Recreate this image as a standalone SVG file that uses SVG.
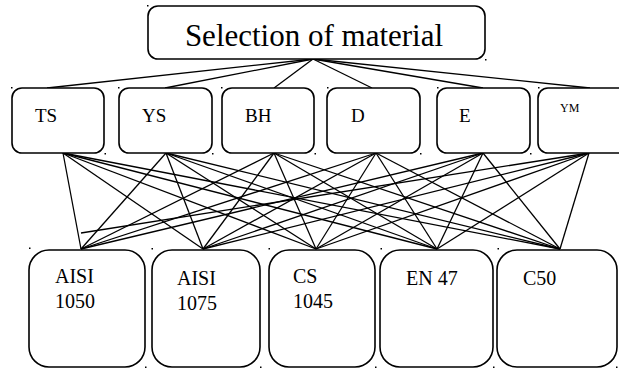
<svg xmlns="http://www.w3.org/2000/svg" width="619" height="368" viewBox="0 0 619 368">
<style>
.box{fill:#fff;stroke:#000;stroke-width:1.6}
text{font-family:'Times New Roman','Liberation Serif','DejaVu Serif',serif;fill:#000}
.c line{stroke:#000;stroke-width:1.3}
.d{fill:#000}
</style>
<rect width="619" height="368" fill="#fff"/>
<g id="connectors" class="c">
<line x1="313" y1="59" x2="47" y2="88"/>
<line x1="313" y1="59" x2="165" y2="88"/>
<line x1="313" y1="59" x2="274" y2="88"/>
<line x1="313" y1="59" x2="372" y2="88"/>
<line x1="313" y1="59" x2="483" y2="88"/>
<line x1="313" y1="59" x2="590" y2="88"/>
<line x1="63" y1="153" x2="81" y2="249"/>
<line x1="63" y1="153" x2="203" y2="249"/>
<line x1="63" y1="153" x2="316" y2="249"/>
<line x1="63" y1="153" x2="437" y2="249"/>
<line x1="63" y1="153" x2="560" y2="249"/>
<line x1="166" y1="153" x2="81" y2="249"/>
<line x1="166" y1="153" x2="203" y2="249"/>
<line x1="166" y1="153" x2="316" y2="249"/>
<line x1="166" y1="153" x2="437" y2="249"/>
<line x1="166" y1="153" x2="560" y2="249"/>
<line x1="274" y1="153" x2="81" y2="249"/>
<line x1="274" y1="153" x2="203" y2="249"/>
<line x1="274" y1="153" x2="316" y2="249"/>
<line x1="274" y1="153" x2="437" y2="249"/>
<line x1="274" y1="153" x2="560" y2="249"/>
<line x1="376" y1="153" x2="81" y2="249"/>
<line x1="376" y1="153" x2="203" y2="249"/>
<line x1="376" y1="153" x2="316" y2="249"/>
<line x1="376" y1="153" x2="437" y2="249"/>
<line x1="376" y1="153" x2="560" y2="249"/>
<line x1="483" y1="153" x2="81" y2="249"/>
<line x1="483" y1="153" x2="203" y2="249"/>
<line x1="483" y1="153" x2="316" y2="249"/>
<line x1="483" y1="153" x2="437" y2="249"/>
<line x1="483" y1="153" x2="560" y2="249"/>
<line x1="589" y1="153" x2="81" y2="233"/>
<line x1="589" y1="153" x2="203" y2="249"/>
<line x1="589" y1="153" x2="316" y2="249"/>
<line x1="589" y1="153" x2="437" y2="249"/>
<line x1="589" y1="153" x2="560" y2="249"/>
</g>
<g id="root">
<rect class="box" x="148" y="6" width="337" height="53" rx="10"/>
<text x="314" y="46" font-size="31" text-anchor="middle">Selection of material</text>
<rect class="d" x="147" y="5" width="1.5" height="1.5"/><rect class="d" x="485" y="59" width="1.5" height="1.5"/>
</g>
<g id="TS">
<rect class="box" x="12" y="88" width="92" height="65" rx="10"/>
<text x="35" y="122" font-size="19">TS</text>
<rect class="d" x="11" y="87" width="1.5" height="1.5"/><rect class="d" x="104.5" y="153" width="1.5" height="1.5"/>
</g>
<g id="YS">
<rect class="box" x="119" y="88" width="93" height="65" rx="10"/>
<text x="142" y="122" font-size="19">YS</text>
<rect class="d" x="118" y="87" width="1.5" height="1.5"/><rect class="d" x="212" y="153" width="1.5" height="1.5"/>
</g>
<g id="BH">
<rect class="box" x="222" y="88" width="92" height="65" rx="10"/>
<text x="245" y="122" font-size="19">BH</text>
<rect class="d" x="221" y="87" width="1.5" height="1.5"/><rect class="d" x="314.5" y="153" width="1.5" height="1.5"/>
</g>
<g id="D">
<rect class="box" x="327" y="88" width="93" height="65" rx="10"/>
<text x="351" y="122" font-size="19">D</text>
<rect class="d" x="327" y="87" width="1.5" height="1.5"/><rect class="d" x="420" y="153" width="1.5" height="1.5"/>
</g>
<g id="E">
<rect class="box" x="437" y="88" width="93" height="65" rx="10"/>
<text x="459" y="122" font-size="19">E</text>
<rect class="d" x="437" y="87" width="1.5" height="1.5"/><rect class="d" x="530" y="153" width="1.5" height="1.5"/>
</g>
<g id="YM">
<rect class="box" x="538" y="88" width="94" height="65" rx="10"/>
<text x="560" y="112" font-size="12">YM</text>
<rect class="d" x="538" y="87" width="1.5" height="1.5"/>
</g>
<g id="AISI1050">
<rect class="box" x="29" y="250" width="116" height="117" rx="20"/>
<text x="55" y="283" font-size="20">AISI</text>
<text x="55" y="308" font-size="20">1050</text>
<rect class="d" x="29" y="247.5" width="1.5" height="1.5"/><rect class="d" x="145" y="366.5" width="1.5" height="1.5"/>
</g>
<g id="AISI1075">
<rect class="box" x="152" y="250" width="108" height="117" rx="20"/>
<text x="177" y="285" font-size="20">AISI</text>
<text x="177" y="310" font-size="20">1075</text>
<rect class="d" x="151.5" y="248" width="1.5" height="1.5"/><rect class="d" x="260" y="366.5" width="1.5" height="1.5"/>
</g>
<g id="CS1045">
<rect class="box" x="269" y="250" width="106" height="117" rx="20"/>
<text x="293" y="283" font-size="20">CS</text>
<text x="293" y="308" font-size="20">1045</text>
<rect class="d" x="268.5" y="248" width="1.5" height="1.5"/><rect class="d" x="375" y="366.5" width="1.5" height="1.5"/>
</g>
<g id="EN47">
<rect class="box" x="380" y="250" width="113" height="117" rx="20"/>
<text x="406" y="285" font-size="20">EN 47</text>
<rect class="d" x="380.5" y="248" width="1.5" height="1.5"/><rect class="d" x="493" y="366.5" width="1.5" height="1.5"/>
</g>
<g id="C50">
<rect class="box" x="497" y="250" width="120" height="117" rx="20"/>
<text x="523" y="285" font-size="20">C50</text>
<rect class="d" x="497.5" y="248" width="1.5" height="1.5"/><rect class="d" x="616" y="366.5" width="1.5" height="1.5"/>
</g>
</svg>
